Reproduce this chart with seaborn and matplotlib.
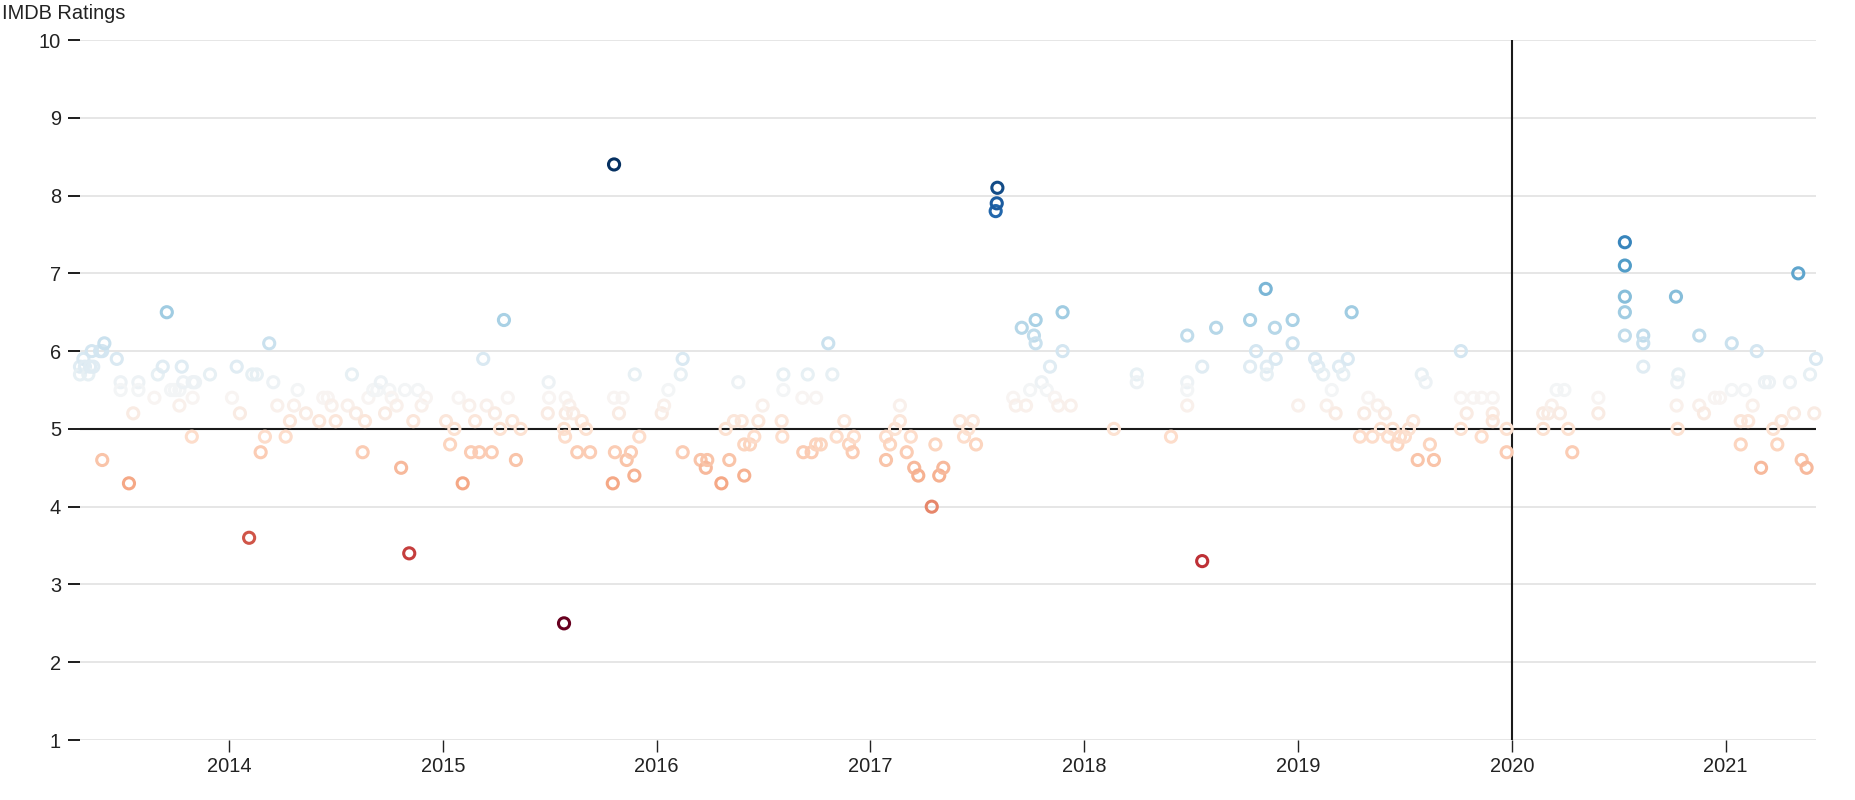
import numpy as np
import pandas as pd
import matplotlib
matplotlib.use("Agg")
import matplotlib.pyplot as plt
import seaborn as sns

# ---- data (release date as decimal year, IMDB rating) ----
release_year = [
    2013.303, 2013.303, 2013.319, 2013.326, 2013.342, 2013.350, 2013.358, 2013.365, 2013.397, 2013.407,
    2013.407, 2013.417, 2013.475, 2013.493, 2013.493, 2013.532, 2013.552, 2013.576, 2013.576, 2013.651,
    2013.667, 2013.690, 2013.709, 2013.729, 2013.747, 2013.768, 2013.768, 2013.779, 2013.786, 2013.826,
    2013.830, 2013.830, 2013.841, 2013.911, 2014.014, 2014.036, 2014.051, 2014.094, 2014.109, 2014.130,
    2014.148, 2014.168, 2014.188, 2014.207, 2014.226, 2014.265, 2014.285, 2014.304, 2014.321, 2014.360,
    2014.422, 2014.441, 2014.462, 2014.480, 2014.499, 2014.555, 2014.575, 2014.594, 2014.625, 2014.636,
    2014.652, 2014.675, 2014.694, 2014.710, 2014.730, 2014.750, 2014.761, 2014.784, 2014.805, 2014.823,
    2014.843, 2014.862, 2014.883, 2014.901, 2014.921, 2015.015, 2015.034, 2015.054, 2015.074, 2015.093,
    2015.124, 2015.132, 2015.151, 2015.171, 2015.189, 2015.205, 2015.229, 2015.244, 2015.268, 2015.286,
    2015.304, 2015.325, 2015.342, 2015.364, 2015.491, 2015.495, 2015.497, 2015.567, 2015.567, 2015.572,
    2015.575, 2015.575, 2015.592, 2015.610, 2015.629, 2015.650, 2015.670, 2015.689, 2015.795, 2015.801,
    2015.801, 2015.805, 2015.824, 2015.841, 2015.860, 2015.880, 2015.896, 2015.898, 2015.919, 2016.024,
    2016.035, 2016.055, 2016.113, 2016.122, 2016.122, 2016.206, 2016.230, 2016.237, 2016.303, 2016.323,
    2016.340, 2016.362, 2016.382, 2016.398, 2016.410, 2016.410, 2016.437, 2016.457, 2016.476, 2016.496,
    2016.585, 2016.588, 2016.593, 2016.593, 2016.682, 2016.686, 2016.707, 2016.725, 2016.746, 2016.746,
    2016.768, 2016.803, 2016.822, 2016.842, 2016.878, 2016.900, 2016.917, 2016.923, 2017.073, 2017.073,
    2017.092, 2017.115, 2017.138, 2017.138, 2017.170, 2017.189, 2017.205, 2017.224, 2017.287, 2017.304,
    2017.322, 2017.341, 2017.419, 2017.438, 2017.458, 2017.479, 2017.494, 2017.586, 2017.591, 2017.594,
    2017.668, 2017.680, 2017.708, 2017.728, 2017.747, 2017.765, 2017.773, 2017.773, 2017.801, 2017.825,
    2017.840, 2017.863, 2017.879, 2017.899, 2017.899, 2017.937, 2018.139, 2018.246, 2018.246, 2018.406,
    2018.482, 2018.482, 2018.482, 2018.482, 2018.552, 2018.552, 2018.617, 2018.776, 2018.776, 2018.804,
    2018.849, 2018.854, 2018.854, 2018.892, 2018.896, 2018.975, 2018.975, 2019.001, 2019.080, 2019.095,
    2019.118, 2019.134, 2019.158, 2019.176, 2019.192, 2019.212, 2019.233, 2019.251, 2019.290, 2019.310,
    2019.329, 2019.348, 2019.373, 2019.388, 2019.407, 2019.422, 2019.443, 2019.465, 2019.477, 2019.500,
    2019.519, 2019.539, 2019.560, 2019.579, 2019.597, 2019.617, 2019.636, 2019.762, 2019.762, 2019.762,
    2019.789, 2019.820, 2019.859, 2019.859, 2019.911, 2019.911, 2019.911, 2019.976, 2019.976, 2020.147,
    2020.147, 2020.171, 2020.187, 2020.210, 2020.225, 2020.246, 2020.264, 2020.283, 2020.405, 2020.405,
    2020.529, 2020.529, 2020.529, 2020.529, 2020.529, 2020.615, 2020.615, 2020.615, 2020.768, 2020.771,
    2020.774, 2020.776, 2020.779, 2020.877, 2020.877, 2020.899, 2020.950, 2020.974, 2021.029, 2021.029,
    2021.071, 2021.071, 2021.091, 2021.106, 2021.127, 2021.146, 2021.166, 2021.184, 2021.203, 2021.223,
    2021.242, 2021.262, 2021.301, 2021.320, 2021.340, 2021.356, 2021.379, 2021.395, 2021.415, 2021.423,
]

imdb_rating = [
    5.8, 5.7, 5.9, 5.8, 5.7, 5.8, 6.0, 5.8, 6.0, 6.0,
    4.6, 6.1, 5.9, 5.6, 5.5, 4.3, 5.2, 5.6, 5.5, 5.4,
    5.7, 5.8, 6.5, 5.5, 5.5, 5.5, 5.3, 5.8, 5.6, 4.9,
    5.6, 5.4, 5.6, 5.7, 5.4, 5.8, 5.2, 3.6, 5.7, 5.7,
    4.7, 4.9, 6.1, 5.6, 5.3, 4.9, 5.1, 5.3, 5.5, 5.2,
    5.1, 5.4, 5.4, 5.3, 5.1, 5.3, 5.7, 5.2, 4.7, 5.1,
    5.4, 5.5, 5.5, 5.6, 5.2, 5.5, 5.4, 5.3, 4.5, 5.5,
    3.4, 5.1, 5.5, 5.3, 5.4, 5.1, 4.8, 5.0, 5.4, 4.3,
    5.3, 4.7, 5.1, 4.7, 5.9, 5.3, 4.7, 5.2, 5.0, 6.4,
    5.4, 5.1, 4.6, 5.0, 5.2, 5.6, 5.4, 2.5, 5.0, 4.9,
    5.4, 5.2, 5.3, 5.2, 4.7, 5.1, 5.0, 4.7, 4.3, 8.4,
    5.4, 4.7, 5.2, 5.4, 4.6, 4.7, 4.4, 5.7, 4.9, 5.2,
    5.3, 5.5, 5.7, 5.9, 4.7, 4.6, 4.5, 4.6, 4.3, 5.0,
    4.6, 5.1, 5.6, 5.1, 4.8, 4.4, 4.8, 4.9, 5.1, 5.3,
    5.1, 4.9, 5.7, 5.5, 5.4, 4.7, 5.7, 4.7, 4.8, 5.4,
    4.8, 6.1, 5.7, 4.9, 5.1, 4.8, 4.7, 4.9, 4.9, 4.6,
    4.8, 5.0, 5.3, 5.1, 4.7, 4.9, 4.5, 4.4, 4.0, 4.8,
    4.4, 4.5, 5.1, 4.9, 5.0, 5.1, 4.8, 7.8, 7.9, 8.1,
    5.4, 5.3, 6.3, 5.3, 5.5, 6.2, 6.4, 6.1, 5.6, 5.5,
    5.8, 5.4, 5.3, 6.5, 6.0, 5.3, 5.0, 5.7, 5.6, 4.9,
    6.2, 5.6, 5.5, 5.3, 3.3, 5.8, 6.3, 6.4, 5.8, 6.0,
    6.8, 5.8, 5.7, 6.3, 5.9, 6.4, 6.1, 5.3, 5.9, 5.8,
    5.7, 5.3, 5.5, 5.2, 5.8, 5.7, 5.9, 6.5, 4.9, 5.2,
    5.4, 4.9, 5.3, 5.0, 5.2, 4.9, 5.0, 4.8, 4.9, 4.9,
    5.0, 5.1, 4.6, 5.7, 5.6, 4.8, 4.6, 6.0, 5.4, 5.0,
    5.2, 5.4, 5.4, 4.9, 5.4, 5.2, 5.1, 5.0, 4.7, 5.2,
    5.0, 5.2, 5.3, 5.5, 5.2, 5.5, 5.0, 4.7, 5.4, 5.2,
    7.4, 7.1, 6.7, 6.5, 6.2, 6.2, 6.1, 5.8, 6.7, 5.3,
    5.6, 5.0, 5.7, 6.2, 5.3, 5.2, 5.4, 5.4, 6.1, 5.5,
    5.1, 4.8, 5.5, 5.1, 5.3, 6.0, 4.5, 5.6, 5.6, 5.0,
    4.8, 5.1, 5.6, 5.2, 7.0, 4.6, 4.5, 5.7, 5.2, 5.9,
]

y_ticks = [1, 2, 3, 4, 5, 6, 7, 8, 9, 10]
x_ticks = [2014, 2015, 2016, 2017, 2018, 2019, 2020, 2021]
x_tick_labels = ["2014", "2015", "2016", "2017", "2018", "2019", "2020", "2021"]
reference_year = 2020
reference_rating = 5
title = "IMDB Ratings"

# ---- style ----
sns.set_theme(style="white")
plt.rcParams["font.family"] = ["Liberation Sans", "DejaVu Sans"]

W, H = 1856, 800
fig = plt.figure(figsize=(W / 100, H / 100), dpi=100)
ax = fig.add_axes([80 / W, 60 / H, 1736 / W, 700 / H])

df = pd.DataFrame({"year": release_year, "rating": imdb_rating})
sns.scatterplot(
    data=df, x="year", y="rating", hue="rating", palette="RdBu",
    hue_norm=(min(imdb_rating), max(imdb_rating)), s=64, legend=False,
    ax=ax, zorder=4, clip_on=False,
)
pts = ax.collections[0]
cols = pts.get_facecolors()
pts.set_edgecolors(cols)
pts.set_facecolors("none")
pts.set_linewidth(2.2)

ax.set_xlim(min(release_year), max(release_year))
ax.set_ylim(1, 10)
ax.set_yticks(y_ticks)
ax.set_yticklabels([str(v) for v in y_ticks])
ax.set_xticks(x_ticks)
ax.set_xticklabels(x_tick_labels)
ax.set_xlabel("")
ax.set_ylabel("")

ax.grid(axis="y", color="#e6e6e6", linewidth=1.44)
ax.grid(axis="x", visible=False)
ax.set_axisbelow(True)
for s in ax.spines.values():
    s.set_visible(False)

ax.axhline(reference_rating, color="#1a1a1a", linewidth=1.5, zorder=3)
ax.axvline(reference_year, color="#1a1a1a", linewidth=1.5, zorder=3)

ax.tick_params(axis="y", length=8.6, width=1.44, color="#222222", pad=5,
               labelsize=14.4, labelcolor="#222222", left=True)
ax.tick_params(axis="x", length=8.6, width=1.0, color="#222222", pad=3.6,
               labelsize=14.4, labelcolor="#222222", bottom=True)

fig.text(2 / W, 1 - 19 / H, title, fontsize=14.4, ha="left", va="baseline",
         color="#222222")

fig.savefig("out.png", dpi=100)
